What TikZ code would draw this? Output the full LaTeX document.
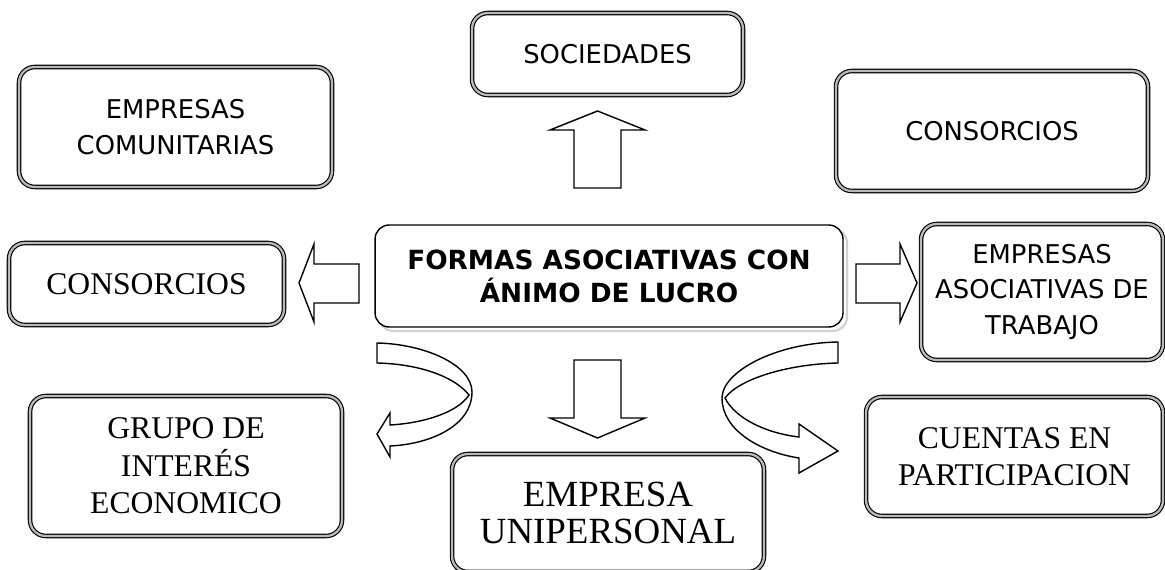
\documentclass[tikz,border=0pt]{standalone}
\usepackage{fontspec}
\setmainfont{Liberation Serif}
\newfontfamily\tahoma{DejaVu Sans}

\tikzset{
  caja/.style={draw, line width=0.65pt, double=gray!55, double distance=1.3pt,
    rounded corners=9pt, align=center, inner sep=0pt, fill=white},
  cajasans/.style={caja, font=\tahoma\fontsize{14.7}{20.4}\selectfont},
  cajaserif/.style={caja, font=\fontsize{18}{21.3}\selectfont},
  flecha/.style={draw, line width=0.8pt, fill=white, line join=miter},
}

\begin{document}
\begin{tikzpicture}[x=0.02cm, y=-0.02cm]
    \useasboundingbox (0,0) rectangle (1165,570);

    % Cajas
    \node[cajasans, minimum width=5.42cm, minimum height=1.64cm] (soc) at (607.5,54) {SOCIEDADES};
    \node[cajasans, minimum width=6.26cm, minimum height=2.4cm] (com) at (175.5,127) {EMPRESAS\\COMUNITARIAS};
    \node[cajasans, minimum width=6.24cm, minimum height=2.4cm] (conA) at (992,131) {CONSORCIOS};
    \node[cajaserif, minimum width=5.5cm, minimum height=1.64cm] (conB) at (146.5,284) {CONSORCIOS};
    \node[cajasans, minimum width=4.84cm, minimum height=2.72cm] (eat) at (1042,292) {EMPRESAS\\ASOCIATIVAS DE\\TRABAJO};
    \node[cajaserif, minimum width=6.24cm, minimum height=2.8cm] (grupo) at (186,466) {GRUPO DE\\INTERÉS\\ECONOMICO};
    \node[caja, font=\fontsize{21}{21.5}\selectfont, minimum width=6.24cm, minimum height=2.36cm] (unip) at (608,513) {EMPRESA\\UNIPERSONAL};
    \node[cajaserif, minimum width=5.94cm, minimum height=2.38cm] (cuentas) at (1014.5,456.5) {CUENTAS EN\\PARTICIPACION};

    % Caja central
    \draw[gray!35, line width=1.2pt, rounded corners=8pt]
      (379,229) rectangle (847,331);
    \node[draw, line width=0.8pt, rounded corners=8pt, fill=white, align=center,
      minimum width=9.36cm, minimum height=2.04cm, inner sep=0pt,
      font=\tahoma\bfseries\fontsize{15}{18.7}\selectfont] (centro) at (609,276)
      {FORMAS ASOCIATIVAS CON\\ÁNIMO DE LUCRO};

    % Flechas rectas
    \draw[flecha] (574,188) -- (574,130) -- (550,130) -- (597.5,111) -- (645,130) -- (621,130) -- (621,188) -- cycle;
    \draw[flecha] (574,360) -- (621,360) -- (621,418) -- (645,418) -- (597.5,438) -- (550,418) -- (574,418) -- cycle;
    \draw[flecha] (359,264) -- (314,264) -- (314,244) -- (299,283) -- (314,322) -- (314,303) -- (359,303) -- cycle;
    \draw[flecha] (856,264) -- (900,264) -- (900,244) -- (917,283) -- (900,322) -- (900,303) -- (856,303) -- cycle;

    % Flechas curvas
    \draw[flecha] (377,343) .. controls (425,344) and (472,365) .. (472,392)
      .. controls (472,425) and (432,444) .. (390,446) -- (390,457) -- (377,434)
      -- (390,413) -- (390,425) .. controls (425,423) and (458,412) .. (469,395)
      .. controls (455,377) and (420,364) .. (377,363) -- cycle;
    \draw[flecha] (838,342) .. controls (775,343) and (722,372) .. (722,398)
      .. controls (722,430) and (760,452) .. (799,458) -- (799,473) -- (838,451)
      -- (799,424) -- (799,437) .. controls (765,433) and (735,418) .. (725,398)
      .. controls (740,378) and (790,364) .. (838,363) -- cycle;
\end{tikzpicture}
\end{document}
